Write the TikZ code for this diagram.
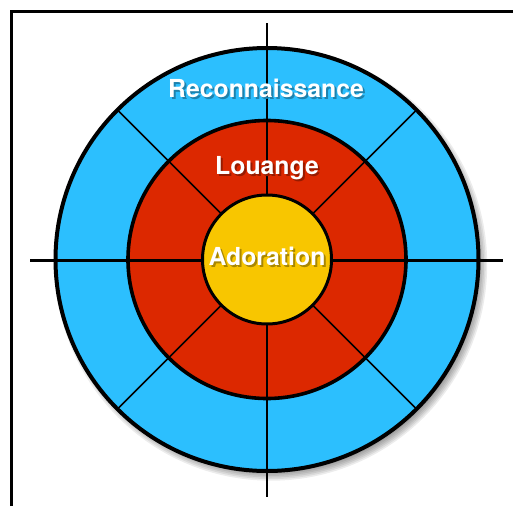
\documentclass[tikz,border=0pt]{standalone}
\usepackage{fontspec}
\setmainfont{TeX Gyre Heros}
\definecolor{skyb}{RGB}{44,191,254}
\definecolor{redc}{RGB}{220,40,0}
\definecolor{yellowc}{RGB}{248,198,0}
\definecolor{skybsh}{RGB}{30,130,173}
\definecolor{redcsh}{RGB}{150,27,0}
\definecolor{yellowcsh}{RGB}{169,135,0}
\newcommand\shtext[2]{\rlap{\kern2pt\raisebox{-2.5pt}{\textcolor{#1}{#2}}}\textcolor{white}{#2}}
\begin{document}
\begin{tikzpicture}[x=1pt,y=-1pt,
  ring/.style={circle, draw=black, inner sep=0pt, outer sep=0pt},
  crossline/.style={line width=2.6pt, black},
  diag/.style={line width=1.6pt, black},
  lbl/.style={font=\bfseries\fontsize{24.8}{24.8}\selectfont, anchor=base, inner sep=0pt}]
\useasboundingbox (0,0) rectangle (513,506);
\fill[white] (0,0) rectangle (513,506);
% frame
\draw[line width=3pt] (11.5,506) -- (11.5,11.5) -- (513,11.5);
% soft drop shadow of the target
\foreach \k in {0,...,7} \fill[black, opacity=0.075] (271,264.5) circle ({205+\k*1.6});
% rings
\node[ring, fill=skyb, line width=4pt, minimum size=423pt] (outer) at (267,259.5) {};
\node[ring, fill=redc, line width=3.6pt, minimum size=278pt] (middle) at (267,259.5) {};
% cross and diagonals
\coordinate (ctop) at (267,23);
\coordinate (cbot) at (267,497);
\coordinate (cleft) at (30,260.5);
\coordinate (cright) at (503,260.5);
\draw[crossline] (ctop) -- (cbot);
\draw[crossline] (cleft) -- (cright);
\foreach \a in {45,135,225,315} \draw[diag] (outer.center) -- (outer.\a);
\node[ring, fill=yellowc, line width=3pt, minimum size=129pt] (inner) at (267,259.5) {};
% labels with shadows
\node[lbl] (t1) at (266,97) {\shtext{skybsh}{Reconnaissance}};
\node[lbl] (t2) at (267,174) {\shtext{redcsh}{Louange}};
\node[lbl] (t3) at (267,265) {\shtext{yellowcsh}{Adoration}};
\end{tikzpicture}
\end{document}
